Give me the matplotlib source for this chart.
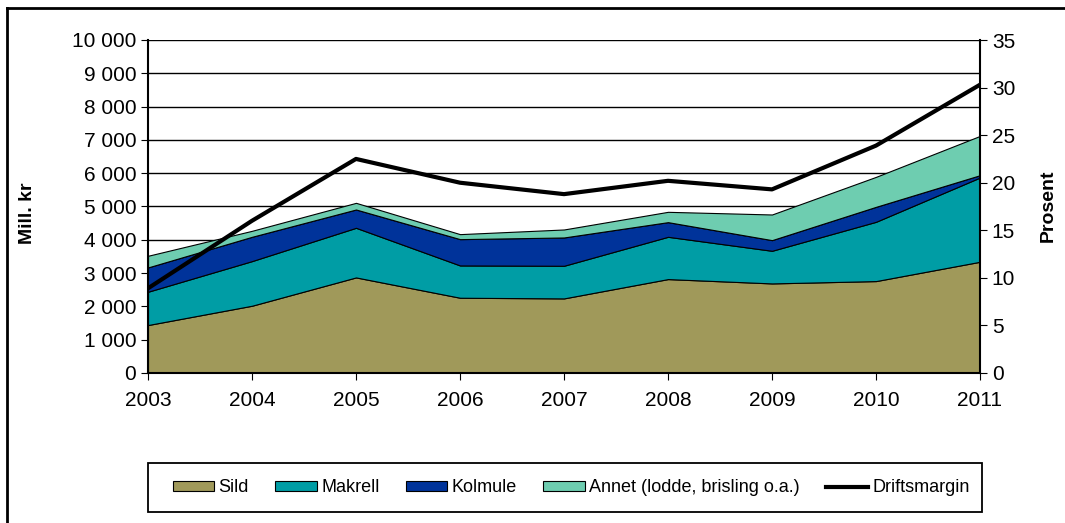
import numpy as np
import matplotlib.pyplot as plt
from matplotlib.lines import Line2D
from matplotlib.patches import Rectangle
from matplotlib.ticker import FuncFormatter

plt.rcParams['font.family'] = ['Liberation Sans', 'DejaVu Sans']

# data
years = [2003, 2004, 2005, 2006, 2007, 2008, 2009, 2010, 2011]
sild = [1440, 2020, 2870, 2260, 2240, 2820, 2690, 2760, 3340]
makrell = [1000, 1340, 1490, 970, 980, 1270, 980, 1780, 2530]
kolmule = [730, 730, 550, 790, 850, 440, 320, 450, 70]
annet = [350, 180, 200, 150, 240, 310, 770, 900, 1180]
driftsmargin = [8.9, 16.0, 22.5, 20.0, 18.8, 20.2, 19.3, 23.9, 30.3]

labels = ['Sild', 'Makrell', 'Kolmule', 'Annet (lodde, brisling o.a.)']
colors = ['#A0995A', '#009DA5', '#00339A', '#6ECDB0']

W, H = 1065, 523
fig = plt.figure(figsize=(W/100, H/100), dpi=100)
ax = fig.add_axes([148/W, 1-373/H, (980-148)/W, (373-40)/H])

polys = ax.stackplot(years, sild, makrell, kolmule, annet, colors=colors,
                     labels=labels, edgecolor='black', linewidth=0.8)
ax.set_xlim(2003, 2011)
ax.set_ylim(0, 10000)
ax.set_yticks(np.arange(0, 10001, 1000))
ax.yaxis.set_major_formatter(FuncFormatter(lambda v, p: f"{int(v):,}".replace(',', ' ')))
ax.set_xticks(years)
ax.grid(axis='y', color='black', linewidth=1)
ax.set_axisbelow(True)
ax.tick_params(labelsize=15, direction='out', length=5, color='black')
ax.tick_params(axis='x', pad=8)
for s in ['top', 'right']:
    ax.spines[s].set_visible(False)
ax.spines['left'].set_linewidth(1.5)
ax.spines['bottom'].set_linewidth(1.5)
ax.set_ylabel('Mill. kr', fontsize=14, fontweight='bold')
ax.yaxis.set_label_coords((36-148)/832, (373-213)/333)

ax2 = ax.twinx()
line, = ax2.plot(years, driftsmargin, color='black', linewidth=3, label='Driftsmargin')
ax2.set_ylim(0, 35)
ax2.set_yticks(np.arange(0, 36, 5))
ax2.tick_params(labelsize=15, direction='out', length=5)
for s in ['top', 'left', 'bottom']:
    ax2.spines[s].set_visible(False)
ax2.spines['right'].set_linewidth(1.5)
ax2.set_ylabel('Prosent', fontsize=14, fontweight='bold')
ax2.yaxis.set_label_coords((1040-148)/832, (373-206)/333)

# legend box
fig.add_artist(Rectangle((148/W, 1-512/H), (982-148)/W, (512-463)/H,
                         transform=fig.transFigure, fill=False,
                         edgecolor='black', linewidth=1.3))
handles = list(polys) + [line]
fig.legend(handles, labels + ['Driftsmargin'], loc='center', ncol=5,
           bbox_to_anchor=(571/W, 1-488/H), fontsize=13, frameon=False,
           handlelength=2.3, handleheight=0.5, handletextpad=0.25,
           columnspacing=1.45)

# outer frame
fig.add_artist(Line2D([7/W, 7/W], [0, 1-8/H], color='black', linewidth=2))
fig.add_artist(Line2D([7/W, 1], [1-8/H, 1-8/H], color='black', linewidth=2))

fig.savefig('out.png', dpi=100)
